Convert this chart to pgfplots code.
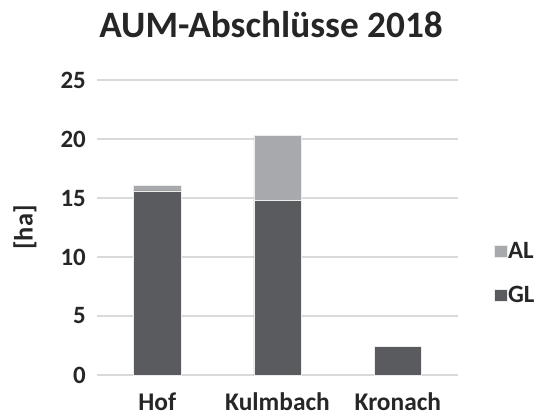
\documentclass[border=0pt]{standalone}
\usepackage{pgfplots}
\pgfplotsset{compat=1.18}
\usepackage{fontspec}
\setmainfont{Carlito}
\definecolor{gl}{HTML}{5A5B5F}
\definecolor{al}{HTML}{A7A9AD}
\definecolor{gridc}{HTML}{D9D9D9}
\definecolor{txt}{HTML}{262626}
\begin{document}
\begin{tikzpicture}[x=1bp,y=1bp]
\path[use as bounding box] (0,0) rectangle (537,416);
\begin{axis}[
  at={(97bp,41bp)}, anchor=south west,
  width=361bp, height=295bp, scale only axis,
  ybar stacked, bar width=47.5bp,
  xmin=-0.5, xmax=2.5, ymin=0, ymax=25,
  ytick={0,5,10,15,20,25},
  xtick={0,1,2}, xticklabels={Hof,Kulmbach,Kronach},
  axis line style={draw=none},
  ymajorgrids, grid style={gridc, line width=1.1bp},
  major tick length=0pt,
  yticklabel style={font=\bfseries\fontsize{25}{28}\selectfont, text=txt, inner sep=0pt, xshift=-11bp},
  xticklabel style={font=\bfseries\fontsize{25.5}{30}\selectfont, text=txt, inner sep=0pt, text depth=0pt, anchor=base, yshift=-35bp},
  /pgf/number format/assume math mode=true,
  reverse legend,
  legend style={at={(1.0997,0.453)}, anchor=north west, draw=none, fill=none,
    font=\bfseries\fontsize{25}{28}\selectfont, text=txt,
    row sep=24bp, inner sep=0pt, nodes={inner sep=1bp}},
  legend cell align=left,
  legend image code/.code={\fill[#1] (0bp,-6bp) rectangle (12.3bp,6.3bp);},
]
\addplot[fill=gl, draw=white!85!gray, line width=0.5bp] coordinates {(0,15.6) (1,14.8) (2,2.4)};
\addlegendentry{GL}
\addplot[fill=al, draw=white!85!gray, line width=0.5bp] coordinates {(0,0.45) (1,5.5)};
\addlegendentry{AL}
\end{axis}
\node[font=\bfseries\fontsize{37.4}{42}\selectfont, text=txt, anchor=base, inner sep=0pt] at (271,378.7) {AUM-Abschlüsse 2018};
\node[font=\bfseries\fontsize{26.5}{30}\selectfont, text=txt, rotate=90, inner sep=0pt] at (25,188.5) {[ha]};
\end{tikzpicture}
\end{document}
